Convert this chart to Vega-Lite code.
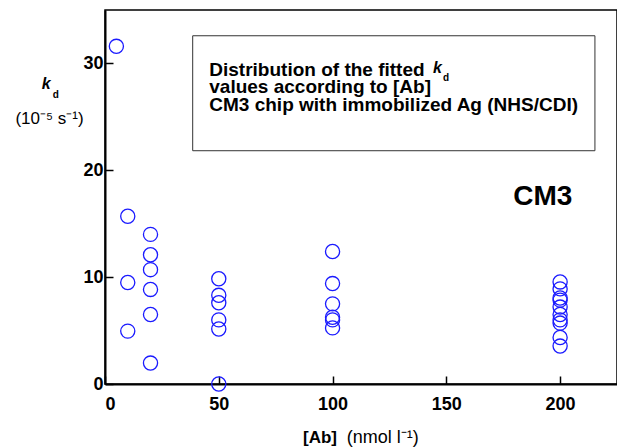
{
  "$schema": "https://vega.github.io/schema/vega-lite/v6.json",
  "width": 512,
  "height": 374,
  "autosize": {"type": "none"},
  "padding": {"left": 105, "top": 10, "right": 0, "bottom": 64},
  "background": "white",
  "config": {
    "view": {"stroke": "#000", "strokeWidth": 1.5},
    "font": "Liberation Sans",
    "axis": {"grid": false, "domainColor": "#000", "tickColor": "#000", "labelColor": "#000", "labelFont": "Liberation Sans"}
  },
  "layer": [
    {
      "data": {"values": [{"x": 38.54, "x2": 215.3, "y": 32.59, "y2": 21.83}]},
      "mark": {"type": "rect", "fill": "white", "stroke": "#333", "strokeWidth": 1},
      "encoding": {
        "x": {"field": "x", "type": "quantitative", "scale": {"domain": [0, 225], "nice": false, "zero": false},
          "axis": {"values": [0, 50, 100, 150, 200],
            "tickSize": -8,
            "labelBaseline": "line-top", "labelLineHeight": 36,
            "tickWidth": 1.5, "domainWidth": 2, "labelFontSize": 18, "labelFontWeight": "bold", "labelPadding": 10, "title": null}},
        "x2": {"field": "x2"},
        "y": {"field": "y", "type": "quantitative", "scale": {"domain": [0, 35], "nice": false, "zero": false},
          "axis": {"values": [0, 10, 20, 30],
            "tickSize": -8,
            "encode": {"labels": {"update": {"dx": {"value": -6}}}},
            "tickWidth": 1.5, "domainWidth": 2, "labelFontSize": 18, "labelFontWeight": "bold", "labelPadding": 10, "title": null}},
        "y2": {"field": "y2"}
      }
    },
    {
      "data": {"values": [
        {"ab": 5, "kd": 31.6},
        {"ab": 10, "kd": 15.7}, {"ab": 10, "kd": 9.5}, {"ab": 10, "kd": 4.95},
        {"ab": 20, "kd": 14.0}, {"ab": 20, "kd": 12.1}, {"ab": 20, "kd": 10.7}, {"ab": 20, "kd": 8.85}, {"ab": 20, "kd": 6.5}, {"ab": 20, "kd": 1.96},
        {"ab": 50, "kd": 9.85}, {"ab": 50, "kd": 8.3}, {"ab": 50, "kd": 7.6}, {"ab": 50, "kd": 6.0}, {"ab": 50, "kd": 5.15}, {"ab": 50, "kd": 0},
        {"ab": 100, "kd": 12.4}, {"ab": 100, "kd": 9.4}, {"ab": 100, "kd": 7.5}, {"ab": 100, "kd": 6.25}, {"ab": 100, "kd": 6.0}, {"ab": 100, "kd": 5.25},
        {"ab": 200, "kd": 9.55}, {"ab": 200, "kd": 8.9}, {"ab": 200, "kd": 8.05}, {"ab": 200, "kd": 7.85}, {"ab": 200, "kd": 7.2}, {"ab": 200, "kd": 6.5}, {"ab": 200, "kd": 6.0}, {"ab": 200, "kd": 5.7}, {"ab": 200, "kd": 4.35}, {"ab": 200, "kd": 3.55}
      ]},
      "mark": {"type": "point", "shape": "circle", "filled": false, "size": 200, "stroke": "#1a1aff", "strokeWidth": 1.3, "opacity": 1},
      "encoding": {
        "x": {"field": "ab", "type": "quantitative"},
        "y": {"field": "kd", "type": "quantitative"}
      }
    },
    {
      "data": {"values": [
        {"x": 45.83, "y": 28.85, "t": "Distribution of the fitted"},
        {"x": 45.83, "y": 27.2, "t": "values according to [Ab]"},
        {"x": 45.83, "y": 25.58, "t": "CM3 chip with immobilized Ag (NHS/CDI)"}
      ]},
      "mark": {"type": "text", "align": "left", "baseline": "alphabetic", "fontSize": 19, "fontWeight": "bold", "font": "Liberation Sans", "color": "#000"},
      "encoding": {"x": {"field": "x", "type": "quantitative"}, "y": {"field": "y", "type": "quantitative"}, "text": {"field": "t"}}
    },
    {
      "data": {"values": [
        {"x": 144.1, "y": 29.13, "t": "k"},
        {"x": -27.8, "y": 27.61, "t": "k"}
      ]},
      "mark": {"type": "text", "align": "left", "baseline": "alphabetic", "fontSize": 16, "fontWeight": "bold", "fontStyle": "italic", "font": "Liberation Sans", "color": "#000"},
      "encoding": {"x": {"field": "x", "type": "quantitative"}, "y": {"field": "y", "type": "quantitative"}, "text": {"field": "t"}}
    },
    {
      "data": {"values": [
        {"x": 148.5, "y": 28.38, "t": "d"},
        {"x": -23.0, "y": 26.81, "t": "d"}
      ]},
      "mark": {"type": "text", "align": "left", "baseline": "alphabetic", "fontSize": 10, "fontWeight": "bold", "font": "Liberation Sans", "color": "#000"},
      "encoding": {"x": {"field": "x", "type": "quantitative"}, "y": {"field": "y", "type": "quantitative"}, "text": {"field": "t"}}
    },
    {
      "data": {"values": [
        {"x": -24.4, "y": 24.3, "t": "(10⁻⁵ s⁻¹)"}
      ]},
      "mark": {"type": "text", "align": "center", "baseline": "alphabetic", "fontSize": 17, "font": "Liberation Sans", "color": "#000"},
      "encoding": {"x": {"field": "x", "type": "quantitative"}, "y": {"field": "y", "type": "quantitative"}, "text": {"field": "t"}}
    },
    {
      "data": {"values": [
        {"x": 106.2, "y": -5.55, "t": "(nmol l⁻¹)"}
      ]},
      "mark": {"type": "text", "align": "left", "baseline": "alphabetic", "fontSize": 18, "font": "Liberation Sans", "color": "#000"},
      "encoding": {"x": {"field": "x", "type": "quantitative"}, "y": {"field": "y", "type": "quantitative"}, "text": {"field": "t"}}
    },
    {
      "data": {"values": [
        {"x": 87.0, "y": -5.55, "t": "[Ab]"}
      ]},
      "mark": {"type": "text", "align": "left", "baseline": "alphabetic", "fontSize": 17, "fontWeight": "bold", "font": "Liberation Sans", "color": "#000"},
      "encoding": {"x": {"field": "x", "type": "quantitative"}, "y": {"field": "y", "type": "quantitative"}, "text": {"field": "t"}}
    },
    {
      "data": {"values": [
        {"x": 179.4, "y": 16.75, "t": "CM3"}
      ]},
      "mark": {"type": "text", "align": "left", "baseline": "alphabetic", "fontSize": 28, "fontWeight": "bold", "font": "Liberation Sans", "color": "#000"},
      "encoding": {"x": {"field": "x", "type": "quantitative"}, "y": {"field": "y", "type": "quantitative"}, "text": {"field": "t"}}
    }
  ]
}
